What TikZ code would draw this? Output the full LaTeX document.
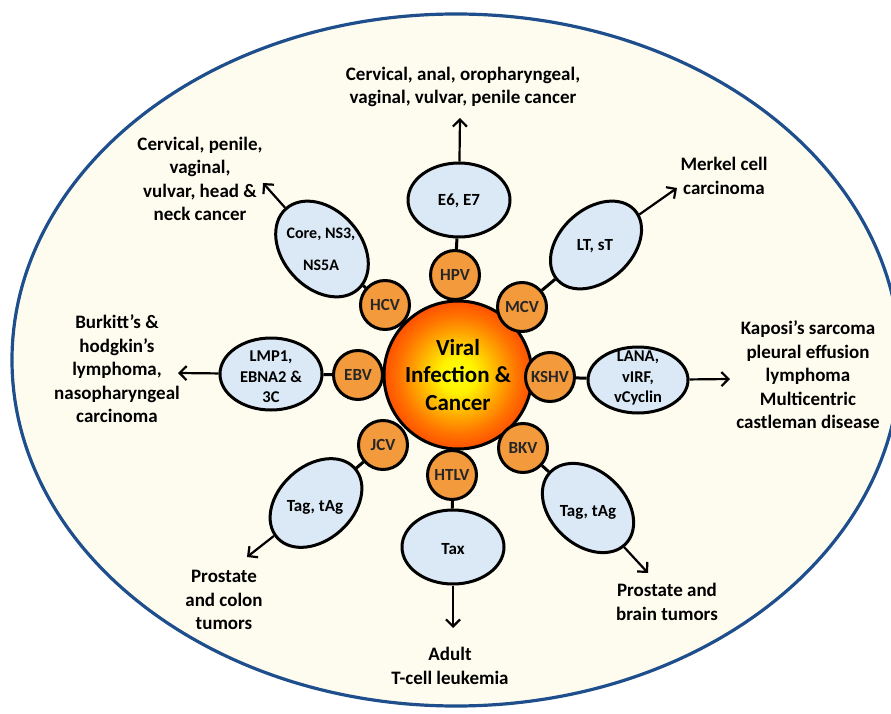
\documentclass[tikz,border=0pt]{standalone}
\usepackage{fontspec}
\setmainfont{Carlito}[BoldFont={Carlito Bold}]
\usetikzlibrary{arrows.meta,shapes.geometric}

\definecolor{rim}{HTML}{1F4E8C}
\definecolor{cream}{HTML}{FEFCEF}
\definecolor{paleblue}{HTML}{DAE9F5}
\definecolor{virusorange}{HTML}{F39A3D}

% yellow core fading through orange to a red rim
\pgfdeclareradialshading{sunball}{\pgfpoint{0bp}{0bp}}{%
  color(0bp)=(yellow!95!white);
  color(6bp)=(yellow!90!orange);
  color(20bp)=(orange!90!red);
  color(32bp)=(red!75!orange);
  color(42bp)=(red!95!orange);
  color(50bp)=(red!85!black)}

\tikzset{
  outcome/.style={align=center, inner sep=0pt,
    font=\fontsize{19}{23.5}\selectfont\bfseries},
  protein/.style={ellipse, draw, line width=3pt, fill=paleblue, inner sep=0pt},
  ptext/.style={align=center, inner sep=0pt,
    font=\fontsize{17}{21}\selectfont\bfseries},
  ptextsmall/.style={align=center, inner sep=0pt,
    font=\fontsize{16.5}{20.5}\selectfont\bfseries},
  virus/.style={circle, draw, line width=3pt, fill=virusorange,
    minimum size=49pt, inner sep=0pt,
    font=\fontsize{17}{18}\selectfont\bfseries, text=black!85},
  link/.style={line width=3pt},
  effect/.style={line width=2.2pt,
    -{Straight Barb[length=7pt,width=14pt,line width=2.2pt]}}
}

\begin{document}
\begin{tikzpicture}[x=1pt,y=-1pt]
\useasboundingbox (0,0) rectangle (891,714);
\clip (0,0) rectangle (891,714);

% outer boundary
\draw[rim, line width=3.2pt, fill=cream] (456,360) ellipse [x radius=444, y radius=346];

% central hub
\node[circle, draw, line width=3pt, minimum size=148pt, inner sep=0pt,
      shade, shading=sunball, align=center,
      font=\fontsize{23}{27.5}\selectfont\bfseries] (hub) at (458,375)
      {Viral\\Infection \&\\Cancer};

% viruses around the hub
\node[virus] (hpv)  at (455,275) {HPV};
\node[virus] (hcv)  at (385,305) {HCV};
\node[virus] (mcv)  at (522,307) {MCV};
\node[virus] (ebv)  at (358,375) {EBV};
\node[virus] (kshv) at (550,377) {KSHV};
\node[virus] (jcv)  at (383,445) {JCV};
\node[virus] (htlv) at (452,475) {HTLV};
\node[virus] (bkv)  at (523,448) {BKV};

% viral oncoproteins
\node[protein, minimum width=102pt, minimum height=74pt] (e6) at (459,200) {};
\node[ptext] (e6t) at (459,201) {E6, E7};

\node[protein, minimum width=108pt, minimum height=78pt, rotate=-48] (ns) at (322,249) {};
\node[ptext, font=\fontsize{16}{32}\selectfont\bfseries] (nst) at (321,249) {Core, NS3,\\NS5A};

\node[protein, minimum width=104pt, minimum height=72pt, rotate=42] (lt) at (596,245) {};
\node[ptext] (ltt) at (595,246) {LT, sT};

\node[protein, minimum width=102pt, minimum height=72pt] (lmp) at (271,374) {};
\node[ptextsmall] (lmpt) at (271,377) {LMP1,\\EBNA2 \&\\3C};

\node[protein, minimum width=100pt, minimum height=66pt] (lana) at (638,380) {};
\node[ptextsmall] (lanat) at (638,378) {LANA,\\vIRF,\\vCyclin};

\node[protein, minimum width=104pt, minimum height=74pt, rotate=42] (tagl) at (316,503) {};
\node[ptext] (taglt) at (315,507) {Tag, tAg};

\node[protein, minimum width=102pt, minimum height=74pt] (tax) at (453,547) {};
\node[ptext] (taxt) at (453,549) {Tax};

\node[protein, minimum width=104pt, minimum height=74pt, rotate=-43] (tagr) at (588,508) {};
\node[ptext] (tagrt) at (588,512) {Tag, tAg};

% virus to protein links
\draw[link] (hpv) -- (e6);
\draw[link] (hcv) -- (ns);
\draw[link] (mcv) -- (lt);
\draw[link] (ebv) -- (lmp);
\draw[link] (kshv) -- (lana);
\draw[link] (jcv) -- (tagl);
\draw[link] (htlv) -- (tax);
\draw[link] (bkv) -- (tagr);

% arrow tips towards the cancers
\coordinate (tipE6)   at (460,118);
\coordinate (tipNS)   at (263,183);
\coordinate (tipLT)   at (677,188);
\coordinate (tipLMP)  at (178,373);
\coordinate (tipLANA) at (730,379);
\coordinate (tipTagL) at (247,557);
\coordinate (tipTax)  at (453,628);
\coordinate (tipTagR) at (648,573);

\draw[effect] (e6)   -- (tipE6);
\draw[effect] (ns)   -- (tipNS);
\draw[effect] (lt)   -- (tipLT);
\draw[effect] (lmp)  -- (tipLMP);
\draw[effect] (lana) -- (tipLANA);
\draw[effect] (tagl) -- (tipTagL);
\draw[effect] (tax)  -- (tipTax);
\draw[effect] (tagr) -- (tipTagR);

% associated cancers
\node[outcome] (cTop) at (463,87)  {Cervical, anal, oropharyngeal,\\vaginal, vulvar, penile cancer};
\node[outcome] (cUL)  at (200,179) {Cervical, penile,\\vaginal,\\vulvar, head \&\\neck cancer};
\node[outcome] (cUR)  at (724,176) {Merkel cell\\carcinoma};
\node[outcome] (cL)   at (117,369) {Burkitt’s \&\\hodgkin’s\\lymphoma,\\nasopharyngeal\\carcinoma};
\node[outcome] (cR)   at (808,375) {Kaposi’s sarcoma\\pleural effusion\\lymphoma\\Multicentric\\castleman disease};
\node[outcome] (cLL)  at (224,600) {Prostate\\and colon\\tumors};
\node[outcome] (cLR)  at (667,602) {Prostate and\\brain tumors};
\node[outcome] (cB)   at (450,666) {Adult\\T-cell leukemia};
\end{tikzpicture}
\end{document}
